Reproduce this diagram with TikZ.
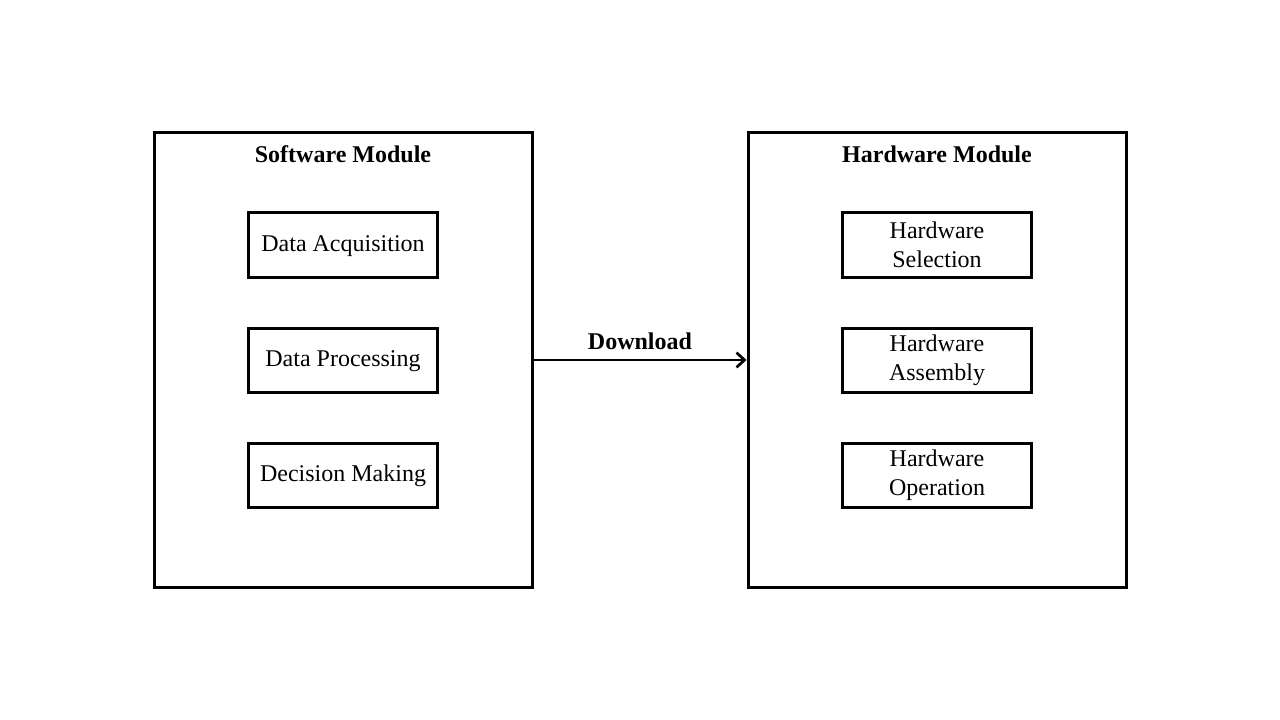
\documentclass[tikz,border=0pt]{standalone}
\usepackage{fontspec}
\setmainfont{Liberation Serif}
\usetikzlibrary{arrows.meta}
\tikzset{
  outerbox/.style={draw, line width=2.25pt, minimum width=283.5pt, minimum height=340.5pt, inner sep=0pt},
  innerbox/.style={draw, line width=2.25pt, minimum width=141.75pt, minimum height=48pt, inner sep=0pt, align=center, font=\fontsize{18}{21.6}\selectfont},
  onebox/.style={innerbox, text height=12pt, text depth=2pt},
  titletext/.style={font=\fontsize{18}{21.6}\selectfont\bfseries, inner sep=0pt},
  conn/.style={line width=2pt, -{Straight Barb[length=6pt, width=11pt, line width=2pt]}}
}
\begin{document}
\begin{tikzpicture}[x=0.75pt,y=-0.75pt]
\useasboundingbox (0,0) rectangle (1280,720);
\node[outerbox] (sw) at (343,360) {};
\node[outerbox] (hw) at (937,360) {};
\node[titletext] (swt) at (343,154) {Software Module};
\node[titletext] (hwt) at (937,154) {Hardware Module};
\node[onebox] (da) at (343,245) {Data Acquisition};
\node[onebox] (dp) at (343,360) {Data Processing};
\node[onebox] (dm) at (343,475) {Decision Making};
\node[innerbox] (hs) at (937,245) {Hardware\\Selection};
\node[innerbox] (ha) at (937,360) {Hardware\\Assembly};
\node[innerbox] (ho) at (937,475) {Hardware\\Operation};
\draw[conn] (sw.east) -- node[titletext, above=7pt] (dl) {Download} (hw.west);
\end{tikzpicture}
\end{document}
